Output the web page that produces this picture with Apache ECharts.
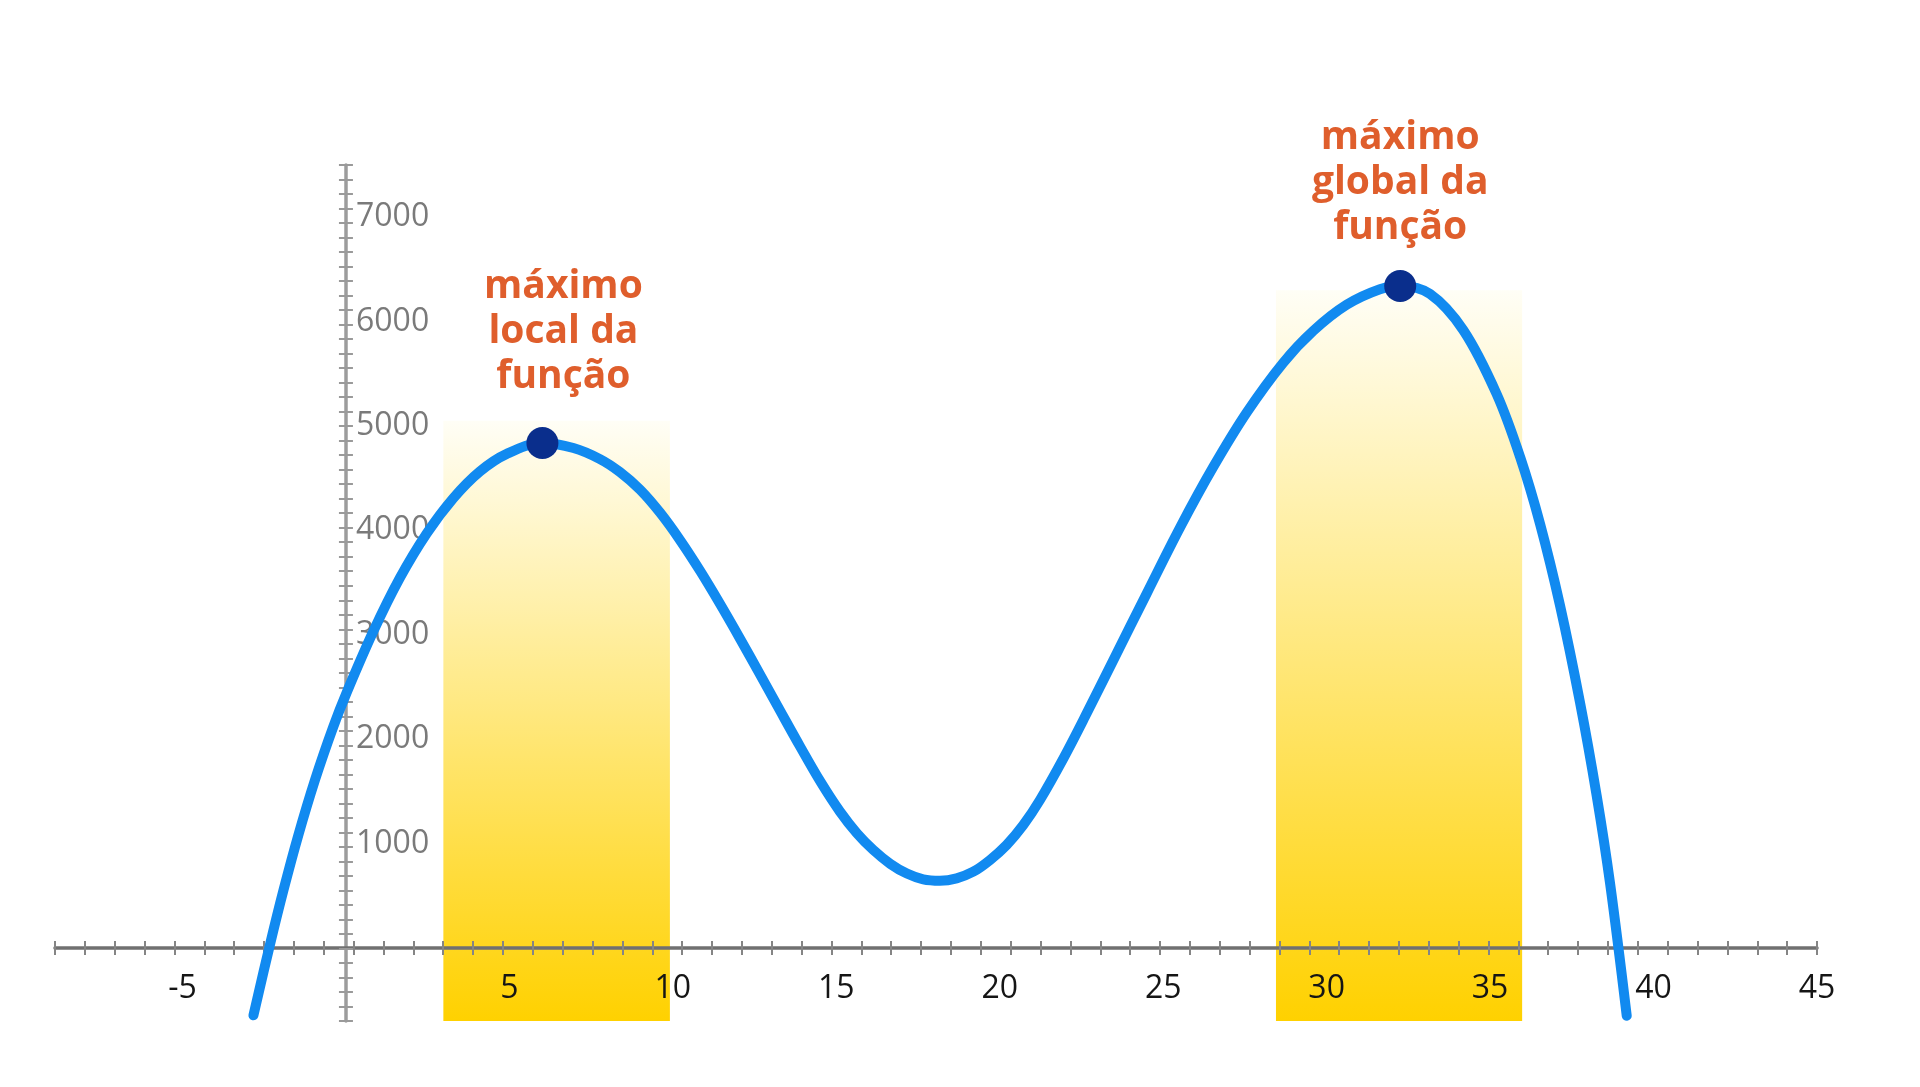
<!DOCTYPE html>
<html>
<head>
<meta charset="utf-8">
<title>máximo local e global da função</title>
<script src="https://cdn.jsdelivr.net/npm/echarts@6/dist/echarts.min.js"></script>
<style>
html, body {margin: 0; padding: 0; background: #fff;}
#main {width: 1920px; height: 1087px;}
</style>
</head>
<body>
<div id="main"></div>
<script>
// pontos
const curve_x = [-2.83, -2.32, -1.91, -1.46, -0.95, -0.39, 0.02, 0.84, 1.65, 2.47,
    3.29, 4.10, 4.92, 6.01, 6.96, 7.77, 8.38, 9.00, 9.61, 10.22,
    10.84, 11.45, 12.06, 12.67, 13.28, 13.89, 14.53, 15.11, 15.63, 16.13,
    16.65, 17.16, 17.66, 18.17, 18.68, 19.19, 19.70, 20.21, 20.72, 21.23,
    21.94, 22.61, 23.47, 24.50, 25.52, 26.53, 27.56, 28.67, 29.59, 30.61,
    31.63, 32.25, 33.16, 34.18, 35.20, 35.92, 36.53, 37.14, 37.75, 38.26,
    38.67, 39.18];
const curve_y = [-646, 37, 554, 1076, 1606, 2116, 2444, 3034, 3544, 3970,
    4310, 4565, 4733, 4837, 4789, 4683, 4559, 4389, 4169, 3907,
    3609, 3292, 2960, 2618, 2273, 1931, 1585, 1307, 1099, 939,
    806, 712, 657, 644, 667, 730, 842, 986, 1177, 1417,
    1811, 2216, 2754, 3398, 4030, 4606, 5131, 5605, 5911, 6161,
    6310, 6341, 6265, 5918, 5306, 4701, 4060, 3279, 2352, 1459,
    618, -650];

// máximos marcados
const max_x = [6.01, 32.25];
const max_y = [4837, 6341];
const max_text = ['máximo\nlocal da\nfunção', 'máximo\nglobal da\nfunção'];

// faixas amarelas
const band_start = [2.98, 28.45];
const band_end = [9.91, 35.98];
const band_top = [5050, 6300];
const band_bottom = -700;

// eixos
const x_min = -8.9, x_max = 45;
const y_min = -700, y_max = 7500;
// marquinhas (escala propria do desenho)
const xtick_min = -10, xtick_max = 49;
const ytick_min = -5, ytick_max = 54;

const font = 'Open Sans';
// posição do texto em relação ao ponto
var label_pos = [
    {distance: 28, offset: [21, 0]},
    {distance: 20, offset: [0, 0]},
];

// grade principal e a posição do zero (x=346, y=948)
const G = {left: 55, right: 103, top: 165, bottom: 66};
const zero_left = 346, zero_bottom = 139;

function x_label(v){
    let r = Math.round(v);
    if (Math.abs(v - r) < 1e-6 && r % 5 === 0 && r !== 0) return String(r);
    return '';
}
function y_label(v){
    let r = Math.round(v);
    if (Math.abs(v - r) < 1e-6 && r % 1000 === 0 && r > 0) return String(r);
    return '';
}

function tick_axis(min, max, inside, color){
    return {
        type: 'value',
        min: min,
        max: max,
        interval: 1,
        z: 1,
        axisLine: {show: false, onZero: true, onZeroAxisIndex: 0},
        axisTick: {show: true, inside: inside, length: 7,
            lineStyle: {color: color, width: 2}},
        axisLabel: {show: false},
        splitLine: {show: false},
    };
}
function dummy_axis(grid){
    return {type: 'value', gridIndex: grid, min: 0, max: 1, show: false,
        axisLine: {onZero: false}};
}

var curve_data = curve_x.map(function(x, i){ return [x, curve_y[i]]; });
var band_data = band_start.map(function(s, i){ return [s, band_end[i], band_top[i]]; });
var max_data = max_x.map(function(x, i){
    return {
        value: [x, max_y[i]],
        label: label_pos[i],
    };
});

var y_ticks_out = tick_axis(ytick_min, ytick_max, false, '#9a9a9a');
var y_ticks_in = tick_axis(ytick_min, ytick_max, true, '#9a9a9a');
y_ticks_out.position = 'right';
y_ticks_in.position = 'right';

var chartDom = document.getElementById('main');
var myChart = echarts.init(chartDom);
var option = {
    animation: false,
    backgroundColor: '#ffffff',
    grid: [
        Object.assign({containLabel: false, outerBoundsMode: 'none'}, G),
        // só para os rótulos do eixo x
        {left: G.left, right: G.right, top: G.top, bottom: zero_bottom,
            containLabel: false, outerBoundsMode: 'none'},
        // só para os rótulos do eixo y
        {left: zero_left, right: G.right, top: G.top, bottom: G.bottom,
            containLabel: false, outerBoundsMode: 'none'},
    ],
    xAxis: [
        {
            type: 'value',
            min: x_min,
            max: x_max,
            z: 1,
            axisLine: {show: true, onZero: true, onZeroAxisIndex: 0,
                lineStyle: {color: '#707070', width: 3.5}},
            axisTick: {show: false},
            splitLine: {show: false},
            axisLabel: {show: false},
        },
        tick_axis(xtick_min, xtick_max, false, '#858585'),
        tick_axis(xtick_min, xtick_max, true, '#858585'),
        {
            type: 'value',
            gridIndex: 1,
            min: x_min,
            max: x_max,
            interval: 0.1,
            axisLine: {show: false, onZero: false},
            axisTick: {show: false},
            splitLine: {show: false},
            axisLabel: {formatter: x_label, color: '#151515',
                fontSize: 32, fontFamily: font, margin: 25},
        },
        dummy_axis(2),
    ],
    yAxis: [
        {
            type: 'value',
            position: 'right',
            min: y_min,
            max: y_max,
            z: 1,
            axisLine: {show: true, onZero: true, onZeroAxisIndex: 0,
                lineStyle: {color: '#9c9c9c', width: 3.5}},
            axisTick: {show: false},
            splitLine: {show: false},
            axisLabel: {show: false},
        },
        y_ticks_out,
        y_ticks_in,
        dummy_axis(1),
        {
            type: 'value',
            gridIndex: 2,
            position: 'left',
            min: y_min,
            max: y_max,
            interval: 100,
            axisLine: {show: false, onZero: false},
            axisTick: {show: false},
            splitLine: {show: false},
            axisLabel: {inside: true, formatter: y_label, color: '#7a7a7a',
                fontSize: 32, fontFamily: font, margin: 10},
        },
    ],
    series: [
        {
            // faixas com degradê
            type: 'custom',
            z: 0,
            silent: true,
            data: band_data,
            encode: {x: [0, 1], y: 2},
            renderItem: function(params, api){
                let p0 = api.coord([api.value(0), api.value(2)]);
                let p1 = api.coord([api.value(1), band_bottom]);
                return {
                    type: 'rect',
                    shape: {x: p0[0], y: p0[1], width: p1[0] - p0[0], height: p1[1] - p0[1]},
                    style: {
                        fill: new echarts.graphic.LinearGradient(0, 0, 0, 1, [
                            {offset: 0, color: '#FFFEF6'},
                            {offset: 1, color: '#FFD100'},
                        ]),
                    },
                };
            },
        },
        {
            type: 'line',
            z: 3,
            data: curve_data,
            smooth: 0.35,
            symbol: 'none',
            clip: false,
            lineStyle: {color: '#118AF0', width: 10, cap: 'round', join: 'round'},
        },
        {
            type: 'scatter',
            z: 4,
            data: max_data,
            symbol: 'circle',
            symbolSize: 32,
            itemStyle: {color: '#0A2E8C', opacity: 1},
            label: {
                show: true,
                position: 'top',
                formatter: function(p){ return max_text[p.dataIndex]; },
                color: '#DF5E2C',
                fontFamily: font,
                fontWeight: 'bold',
                fontSize: 39,
                lineHeight: 45,
                align: 'center',
            },
        },
    ],
};

option && myChart.setOption(option);
</script>
</body>
</html>
